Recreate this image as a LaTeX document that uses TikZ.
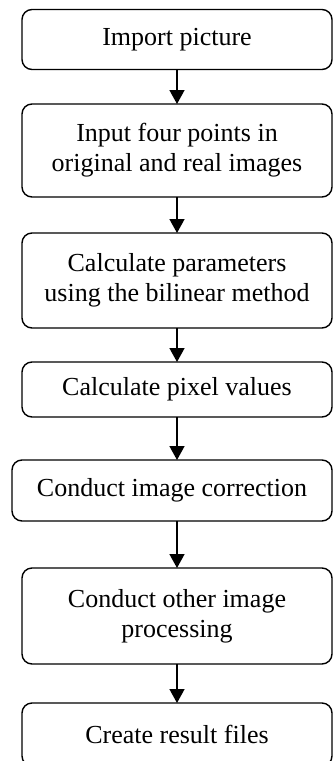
\documentclass[tikz,border=0pt]{standalone}
\usepackage{fontspec}
\setmainfont{Liberation Serif}
\usepackage{tikz}
\usetikzlibrary{arrows.meta,positioning}

\begin{document}
\begin{tikzpicture}[->,>={Triangle[length=14pt,width=15pt]},line width=1.6pt,
	step node/.style={rectangle,rounded corners=10pt,draw,line width=1.4pt,outer sep=0pt,
		minimum width=310pt,align=center,font=\fontsize{26}{30}\selectfont}]
	\useasboundingbox (0,0) rectangle (334pt,-761pt);
	\node[step node,minimum height=60pt] (imp) at (177pt,-39.5pt) {Import picture};
	\node[step node,minimum height=93pt] (inp) [below=34.5pt of imp] {Input four points in\\original and real images};
	\node[step node,minimum height=95pt] (par) [below=36pt of inp] {Calculate parameters\\using the bilinear method};
	\node[step node,minimum height=55pt] (pix) [below=34pt of par] {Calculate pixel values};
	\node[step node,minimum height=61pt,minimum width=320pt] (corr) [below=43pt of pix,xshift=-5pt] {Conduct image correction};
	\node[step node,minimum height=96pt] (oth) [below=47pt of corr,xshift=5pt] {Conduct other image\\processing};
	\node[step node,minimum height=63pt] (res) [below=39pt of oth] {Create result files};
	\path
	(imp) edge (inp)
	(inp) edge (par)
	(par) edge (pix)
	(pix.south) edge (pix.south |- corr.north)
	(oth.north |- corr.south) edge (oth.north)
	(oth) edge (res);
\end{tikzpicture}
\end{document}
